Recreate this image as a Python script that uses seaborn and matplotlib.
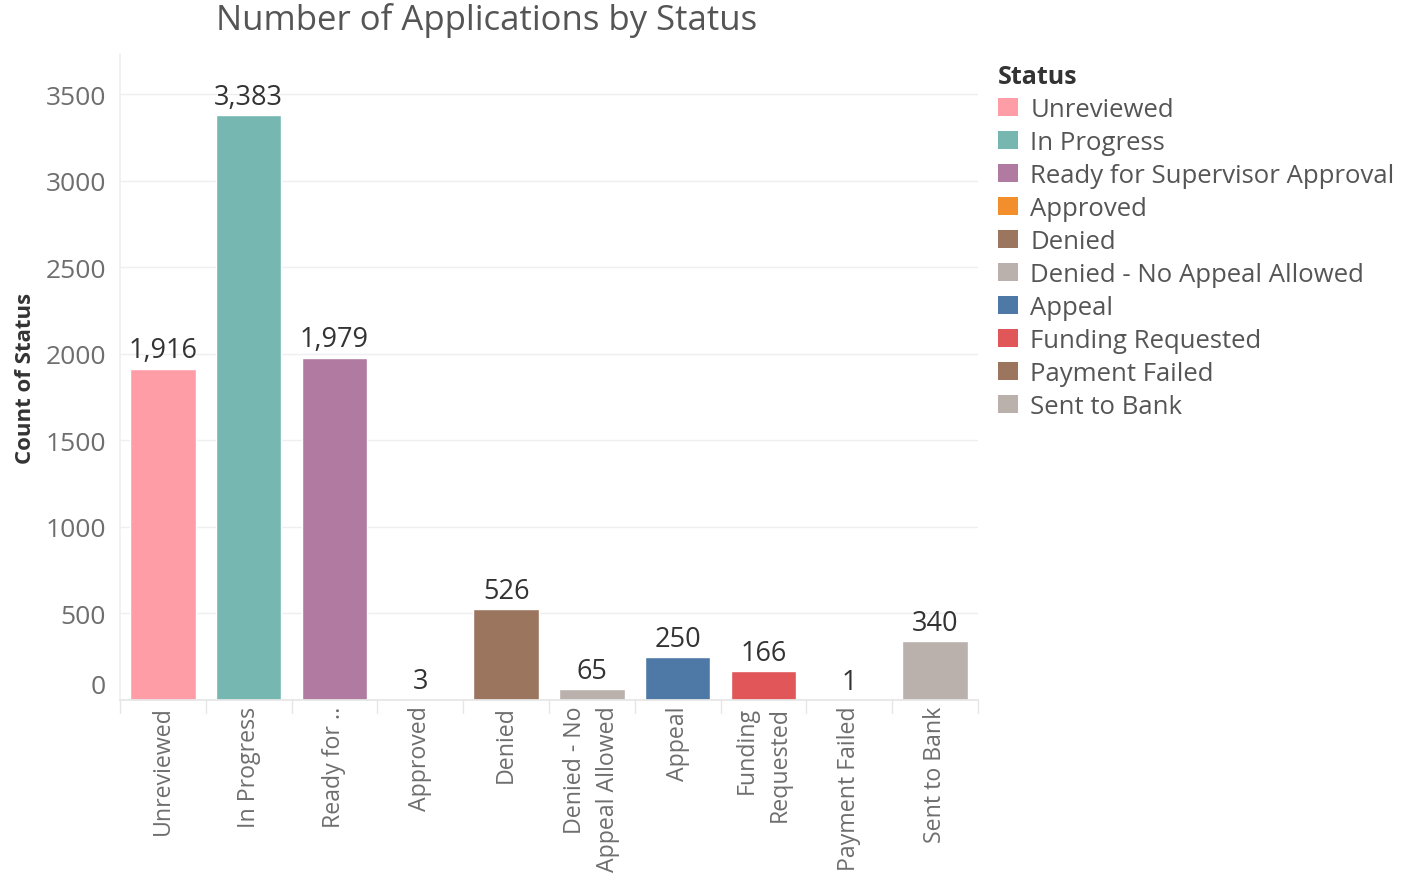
import pandas as pd
import matplotlib.pyplot as plt
import matplotlib.transforms as mtransforms
from matplotlib.patches import Patch
import seaborn as sns

statuses = ["Unreviewed", "In Progress", "Ready for Supervisor Approval", "Approved",
            "Denied", "Denied - No Appeal Allowed", "Appeal", "Funding Requested",
            "Payment Failed", "Sent to Bank"]
tick_labels = ["Unreviewed", "In Progress", "Ready for ..", "Approved", "Denied",
               "Denied - No\nAppeal Allowed", "Appeal", "Funding\nRequested",
               "Payment Failed", "Sent to Bank"]
counts = [1916, 3383, 1979, 3, 526, 65, 250, 166, 1, 340]
colors = ["#FF9DA7", "#76B7B2", "#B07AA1", "#F28E2B", "#9C755F",
          "#BAB0AC", "#4E79A7", "#E15759", "#9C755F", "#BAB0AC"]

df = pd.DataFrame({"Status": statuses, "Count": counts})
palette = dict(zip(statuses, colors))

sns.set_theme(style="white")
plt.rcParams["font.family"] = ["Open Sans", "DejaVu Sans"]

fig = plt.figure(figsize=(14.02, 8.79), dpi=100)
ax = fig.add_axes([120 / 1402, 1 - 701 / 879, 858 / 1402, 646 / 879])

sns.barplot(data=df, x="Status", y="Count", hue="Status", palette=palette,
            order=statuses, hue_order=statuses, width=0.76, dodge=False,
            legend=False, saturation=1, ax=ax)

for c in ax.containers:
    ax.bar_label(c, labels=[f"{v:,.0f}" for v in c.datavalues], padding=3,
                 fontsize=19.5, color="#333333")

ax.set_ylim(0, 3734)
ax.set_xlim(-0.5, len(statuses) - 0.5)
ax.set_yticks([0, 500, 1000, 1500, 2000, 2500, 3000, 3500])
ax.yaxis.grid(True, color="#EFEFEF", linewidth=1)
ax.set_axisbelow(True)
ax.tick_params(axis="y", labelsize=19, labelcolor="#6E6E6E", length=0, pad=10)
# the 0 label sits a bit above its tick, like the original
lbl0 = ax.get_yticklabels()[0]
lbl0.set_transform(lbl0.get_transform() + mtransforms.ScaledTranslation(0, 0.16, fig.dpi_scale_trans))

ax.set_xticks(range(len(statuses)))
ax.set_xticklabels(tick_labels, rotation=90, ha="center", va="top",
                   multialignment="right", fontsize=16.7, color="#6E6E6E",
                   linespacing=1.5)
ax.tick_params(axis="x", length=0, pad=4)
for x in range(len(statuses) + 1):
    ax.plot([x - 0.5, x - 0.5], [0, -0.02], transform=ax.get_xaxis_transform(),
            color="#E6E6E6", lw=1, clip_on=False)

for s in ["top", "right"]:
    ax.spines[s].set_visible(False)
ax.spines["left"].set_color("#EFEFEF")
ax.spines["bottom"].set_color("#E6E6E6")

ax.set_xlabel("")
ax.set_ylabel("Count of Status", fontsize=16, fontweight="bold", color="#333333", labelpad=7)
fig.text(216 / 1402, 1 - 21 / 879, "Number of Applications by Status", fontsize=25,
         color="#555555", ha="left", va="center")

handles = [Patch(facecolor=palette[s], edgecolor="none") for s in statuses]
leg = fig.legend(handles, statuses, title="Status", loc="upper left",
                 bbox_to_anchor=(988 / 1402, 1 - 55 / 879), frameon=False,
                 fontsize=18.5, title_fontproperties={"weight": "bold", "size": 18},
                 handlelength=0.75, handleheight=0.7, handletextpad=0.5,
                 labelspacing=0.31, borderaxespad=0, alignment="left")
for t in leg.get_texts():
    t.set_color("#555555")
leg.get_title().set_color("#333333")

fig.savefig("out.png", dpi=100)
